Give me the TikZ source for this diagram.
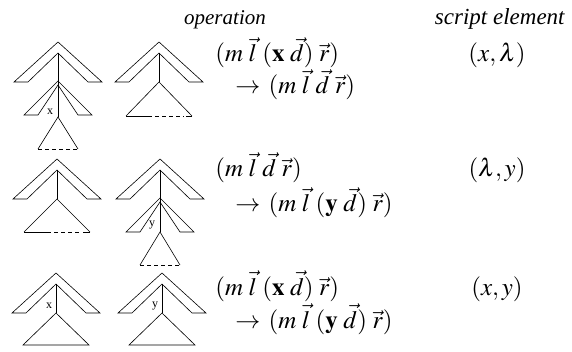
\documentclass[tikz,border=0pt]{standalone}
\usepackage{mathptmx}
\usepackage{fontspec}
\setmainfont{Liberation Serif}
\begin{document}
\begin{tikzpicture}[x=1pt,y=-1pt,line width=0.6pt,
  txt/.style={font=\fontsize{21}{25}\selectfont,inner sep=0pt},
  mth/.style={font=\fontsize{25}{30}\selectfont,inner sep=0pt},
  lab/.style={font=\fontsize{12}{14}\selectfont,inner sep=0pt},
  bigchev/.pic={\draw (-44,40) -- (0,0) -- (44,40) -- (30,40) -- (0,11) -- (-30,40) -- cycle;},
  smallchev/.pic={\draw (-34,34) -- (0,0) -- (34,34) -- (20,34) -- (0,4) -- (-20,34) -- cycle;}]
\useasboundingbox (0,0) rectangle (572,352);
% headers
\node[txt,anchor=base] (h1) at (225,25) {\textit{operation}};
\node[txt,anchor=base,font=\fontsize{23}{27}\selectfont] (h2) at (500,25) {\textit{script element}};
% row 1
\pic at (58,42) {bigchev};
\draw (58,53) -- (58,117);
\pic at (58,81) {smallchev};
\draw (38,149) -- (58,117) -- (78,149);
\draw[dash pattern=on 4pt off 3pt] (38,149) -- (78,149);
\node[lab] (x1) at (50,112) {x};
\pic at (159,42) {bigchev};
\draw (159,53) -- (159,82);
\draw (126,116) -- (159,82) -- (192,116);
\draw (126,116) -- (148,116);
\draw[dash pattern=on 4pt off 3pt] (148,116) -- (184,116);
\draw (186,116) -- (192,116);
\node[mth,anchor=base west] (r1a) at (215,62) {$(m\;\vec{l}\;(\mathbf{x}\;\vec{d})\;\vec{r})$};
\node[mth,anchor=base west] (r1b) at (235,94) {$\rightarrow\,(m\;\vec{l}\;\vec{d}\;\vec{r})$};
\node[mth,anchor=base] (s1) at (497,62) {$(x,\lambda)$};
% row 2
\pic at (57,159) {bigchev};
\draw (57,170) -- (57,199);
\draw (24,232) -- (57,199) -- (90,232);
\draw (24,232) -- (47,232);
\draw[dash pattern=on 4pt off 3pt] (47,232) -- (81,232);
\draw (83,232) -- (90,232);
\pic at (160,159) {bigchev};
\draw (160,170) -- (160,232);
\pic at (160,198) {smallchev};
\draw (140,265) -- (160,232) -- (180,265);
\draw[dash pattern=on 4pt off 3pt] (140,265) -- (180,265);
\node[lab] (y1) at (152,225) {y};
\node[mth,anchor=base west] (r2a) at (215,177) {$(m\;\vec{l}\;\vec{d}\;\vec{r})$};
\node[mth,anchor=base west] (r2b) at (235,212) {$\rightarrow\,(m\;\vec{l}\;(\mathbf{y}\;\vec{d})\;\vec{r})$};
\node[mth,anchor=base] (s2) at (497,177) {$(\lambda,y)$};
% row 3
\pic at (56,273) {bigchev};
\draw (56,284) -- (56,313);
\draw (23,345) -- (56,313) -- (89,345) -- cycle;
\node[lab] (x2) at (49,306) {x};
\pic at (162,273) {bigchev};
\draw (162,284) -- (162,313);
\draw (129,345) -- (162,313) -- (195,345) -- cycle;
\node[lab] (y2) at (155,306) {y};
\node[mth,anchor=base west] (r3a) at (215,295) {$(m\;\vec{l}\;(\mathbf{x}\;\vec{d})\;\vec{r})$};
\node[mth,anchor=base west] (r3b) at (235,328) {$\rightarrow\,(m\;\vec{l}\;(\mathbf{y}\;\vec{d})\;\vec{r})$};
\node[mth,anchor=base] (s3) at (497,295) {$(x,y)$};
\end{tikzpicture}
\end{document}
